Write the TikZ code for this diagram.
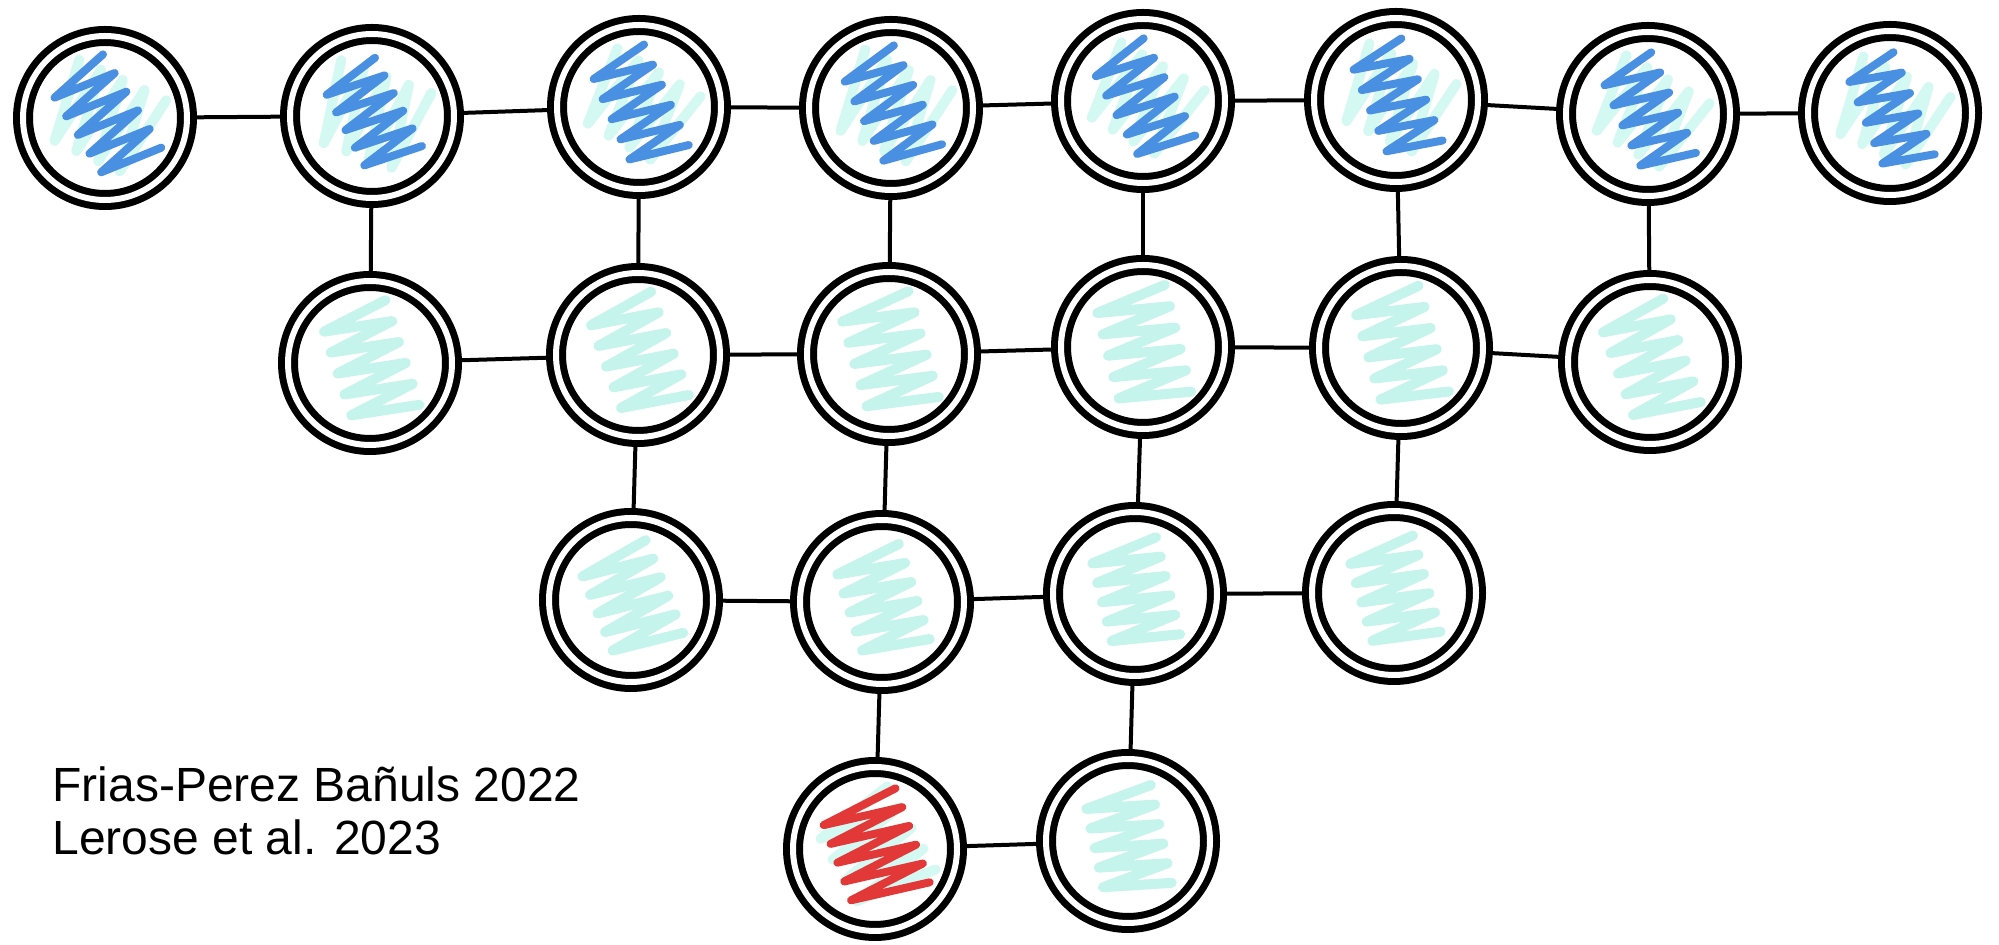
\documentclass[tikz,border=0pt]{standalone}
\usepackage{fontspec}
\newfontfamily\lib{Liberation Sans}
\definecolor{blu}{RGB}{74,144,226}
\definecolor{cya}{RGB}{196,244,236}
\definecolor{cyl}{RGB}{212,248,242}
\definecolor{rd}{RGB}{226,56,56}
% #1 node, #2 rotation, #3 amplitude, #4 zig count, #5 step, #6 style
\newcommand\scrib[6]{%
  \begin{scope}[shift={(#1.center)}, rotate=#2]
    \draw[#6] ({-#4*#5},{-#3}) \foreach \k in {1,...,#4}{ -- ++(#5,{2*#3}) -- ++(#5,{-2*#3}) };
  \end{scope}}
\begin{document}
\begin{tikzpicture}[x=0.5pt, y=-0.5pt,
  ring/.style={circle, draw=black, fill=white, line width=3.5pt, double=white,
    double distance=3pt, minimum size=82pt, inner sep=0pt, outer sep=5pt},
  link/.style={line width=2pt, black, line cap=round},
  zz/.style={line join=round, line cap=round},
  bz/.style={zz, blu, line width=4pt},
  cz/.style={zz, cya, line width=5pt},
  cl/.style={zz, cyl, line width=5pt},
  rz/.style={zz, rd, line width=4pt},
  ref/.style={font=\lib\fontsize{24pt}{26pt}\selectfont, anchor=base west, inner sep=0pt}]
\fill[white] (0,0) rectangle (1999,945);
\useasboundingbox (0,0) rectangle (1999,945);
% row 1
\node[ring] (a1) at (105,118) {};
\node[ring] (a2) at (372,116) {};
\node[ring] (a3) at (639,107) {};
\node[ring] (a4) at (891,108) {};
\node[ring] (a5) at (1143,101) {};
\node[ring] (a6) at (1396,100) {};
\node[ring] (a7) at (1648,114) {};
\node[ring] (a8) at (1890,113) {};
% row 2
\node[ring] (b1) at (370,363) {};
\node[ring] (b2) at (638,355) {};
\node[ring] (b3) at (889,354) {};
\node[ring] (b4) at (1143,347) {};
\node[ring] (b5) at (1401,348) {};
\node[ring] (b6) at (1650,362) {};
% row 3
\node[ring] (c1) at (631,600) {};
\node[ring] (c2) at (882,602) {};
\node[ring] (c3) at (1135,594) {};
\node[ring] (c4) at (1394,593) {};
% row 4
\node[ring] (d1) at (875,849) {};
\node[ring] (d2) at (1128,841) {};
% connectors
\foreach \p/\q in {a1/a2,a2/a3,a3/a4,a4/a5,a5/a6,a6/a7,a7/a8,
                   b1/b2,b2/b3,b3/b4,b4/b5,b5/b6,
                   c1/c2,c2/c3,c3/c4,d1/d2,
                   a2/b1,a3/b2,a4/b3,a5/b4,a6/b5,a7/b6,
                   b2/c1,b3/c2,b4/c3,b5/c4,c2/d1,c3/d2}
  \draw[link] (\p) -- (\q);
% row 1 scribbles
\scrib{a1}{-25}{42}{4}{12}{cl}
\scrib{a1}{-58}{32}{5}{11}{bz}
\scrib{a2}{-20}{42}{4}{12}{cl}
\scrib{a2}{-62}{30}{5}{10}{bz}
\scrib{a3}{-30}{40}{4}{12}{cl}
\scrib{a3}{-66}{30}{5}{11}{bz}
\scrib{a4}{-25}{42}{4}{12}{cl}
\scrib{a4}{-64}{30}{5}{11}{bz}
\scrib{a5}{-30}{40}{4}{12}{cl}
\scrib{a5}{-62}{30}{5}{11}{bz}
\scrib{a6}{-25}{40}{4}{12}{cl}
\scrib{a6}{-68}{28}{5}{11}{bz}
\scrib{a7}{-30}{40}{4}{12}{cl}
\scrib{a7}{-66}{28}{5}{11}{bz}
\scrib{a8}{-25}{40}{4}{12}{cl}
\scrib{a8}{-68}{26}{5}{11}{bz}
% lower rows scribbles
\scrib{b1}{-72}{34}{5}{11}{cz}
\scrib{b2}{-70}{34}{5}{11}{cz}
\scrib{b3}{-74}{36}{5}{11}{cz}
\scrib{b4}{-76}{36}{5}{11}{cz}
\scrib{b5}{-74}{34}{5}{11}{cz}
\scrib{b6}{-70}{34}{5}{11}{cz}
\scrib{c1}{-68}{36}{5}{10}{cz}
\scrib{c2}{-72}{34}{5}{10}{cz}
\scrib{c3}{-76}{34}{5}{10}{cz}
\scrib{c4}{-74}{34}{5}{10}{cz}
\scrib{d1}{-60}{42}{4}{12}{cl}
\scrib{d1}{-70}{40}{5}{10}{rz}
\scrib{d2}{-78}{34}{5}{10}{cz}
% reference text
\node[ref] (t1) at (52,802) {Frias-Perez Bañuls 2022};
\node[ref] (t2) at (52,855) {Lerose et al. 2023};
\end{tikzpicture}
\end{document}
